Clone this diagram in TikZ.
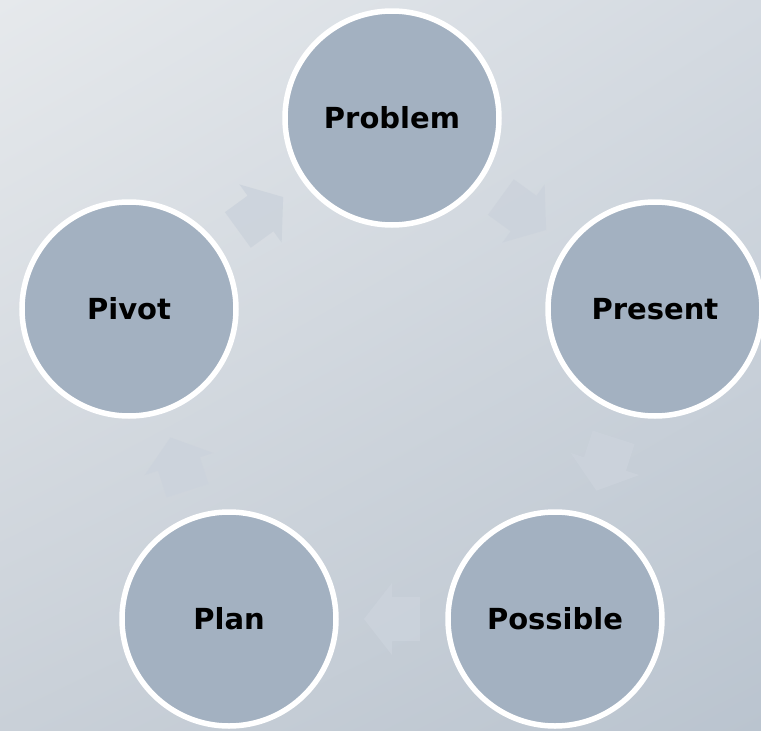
\documentclass[tikz,border=0pt]{standalone}
\usepackage{fontspec}
\setmainfont{DejaVu Sans}
\usetikzlibrary{calc,shadings}
\definecolor{bgtl}{HTML}{E6E9EC}
\definecolor{bgtr}{HTML}{D4DAE1}
\definecolor{bgbl}{HTML}{C9D0D8}
\definecolor{bgbr}{HTML}{BAC4CF}
\definecolor{discfill}{HTML}{A3B1C1}
\definecolor{arrowfill}{HTML}{CCD3DC}
\tikzset{disc/.style={circle,fill=discfill,draw=white,line width=5.5pt,minimum size=214pt,inner sep=0pt,font=\fontsize{29}{33}\selectfont\bfseries},
    cyclearrow/.style={fill=arrowfill,fill opacity=0.85}}
% block arrow half way between two discs
\newcommand{\blockarrow}[2]{%
  \coordinate (amid) at ($(#1)!0.5!(#2)$);
  \coordinate (atail) at ($(amid)!-28pt!(#2)$);
  \fill[cyclearrow] ($(atail)!22pt!90:(#2)$) -- ($(amid)!22pt!90:(#2)$) -- ($(amid)!36pt!90:(#2)$)
    -- ($(amid)!28pt!(#2)$) -- ($(amid)!36pt!-90:(#2)$) -- ($(amid)!22pt!-90:(#2)$) -- ($(atail)!22pt!-90:(#2)$) -- cycle;}

\begin{document}
\begin{tikzpicture}[x=1pt,y=1pt,yscale=-1,xscale=1]
%Background
\shade[upper left=bgtl,upper right=bgtr,lower left=bgbl,lower right=bgbr] (0,0) rectangle (761,731);
\useasboundingbox (0,0) rectangle (761,731);

%Discs
\node [disc] (problem) at (392,118) {Problem};
\node [disc] (present) at (655,309) {Present};
\node [disc] (possible) at (555,619) {Possible};
\node [disc] (plan) at (229,619) {Plan};
\node [disc] (pivot) at (129,309) {Pivot};

%Arrows between discs
\blockarrow{problem.center}{present.center}
\blockarrow{present.center}{possible.center}
\blockarrow{possible.center}{plan.center}
\blockarrow{plan.center}{pivot.center}
\blockarrow{pivot.center}{problem.center}

\end{tikzpicture}
\end{document}
